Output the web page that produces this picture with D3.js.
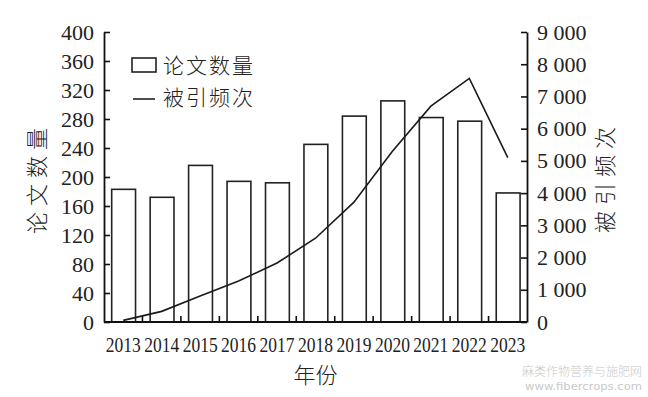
<!DOCTYPE html>
<html>
<head>
<meta charset="utf-8">
<script src="https://cdn.jsdelivr.net/npm/d3@7"></script>
<style>
  body { margin: 0; background: #fff; }
  .num { font-family: "Liberation Serif", "Times New Roman", serif; }
  .cjk { font-family: "Noto Sans CJK SC", sans-serif; font-weight: 300; }
</style>
</head>
<body>
<div id="chart"></div>
<script>
// data
var years = ["2013","2014","2015","2016","2017","2018","2019","2020","2021","2022","2023"];
var papers = [183, 172, 216, 194, 192, 245, 284, 305, 282, 277, 178];
var citations = [50, 330, 810, 1270, 1830, 2600, 3720, 5300, 6700, 7560, 5100];
var leftTicks = [0,40,80,120,160,200,240,280,320,360,400];
var rightTicks = [0,1000,2000,3000,4000,5000,6000,7000,8000,9000];

var W = 648, H = 397;
var margin = {top: 32, right: 121, bottom: 75, left: 104};
var w = W - margin.left - margin.right;
var h = H - margin.top - margin.bottom;

var svg = d3.select("#chart").append("svg")
    .attr("width", W)
    .attr("height", H);

svg.append("rect").attr("width", W).attr("height", H).attr("fill", "#fff");

var g = svg.append("g")
    .attr("transform", "translate(" + margin.left + "," + margin.top + ")");

var x = d3.scaleBand().domain(years).range([0, w]).padding(0);
var yL = d3.scaleLinear().domain([0, 400]).range([h, 0]);
var yR = d3.scaleLinear().domain([0, 9000]).range([h, 0]);

var bw = x.bandwidth();

// bars
g.selectAll(".bar")
    .data(years)
    .enter().append("rect")
    .attr("class", "bar")
    .attr("x", d => x(d) + bw * 0.2)
    .attr("width", bw * 0.62)
    .attr("y", (d, i) => yL(papers[i]))
    .attr("height", (d, i) => h - yL(papers[i]))
    .attr("fill", "#fff")
    .attr("stroke", "#222")
    .attr("stroke-width", 1.6);

// citation line
var line = d3.line()
    .x((d, i) => x(years[i]) + bw / 2)
    .y(d => yR(d));

g.append("path")
    .datum(citations)
    .attr("d", line)
    .attr("fill", "none")
    .attr("stroke", "#1a1a1a")
    .attr("stroke-width", 1.6);

// left axis
var axL = g.append("g")
    .call(d3.axisLeft(yL).tickValues(leftTicks).tickSize(-6).tickSizeOuter(0).tickPadding(10));
axL.select(".domain").attr("stroke", "#111").attr("stroke-width", 1.8);
axL.selectAll(".tick line").attr("stroke", "#111").attr("stroke-width", 1.6);
axL.selectAll(".tick text")
    .attr("class", "num")
    .attr("font-size", "22px")
    .attr("fill", "#222");

// right axis
var fmt = d => d3.format(",")(d).replace(",", " ");
var axR = g.append("g")
    .attr("transform", "translate(" + w + ",0)")
    .call(d3.axisRight(yR).tickValues(rightTicks).tickFormat(fmt).tickSize(-6).tickSizeOuter(0).tickPadding(10));
axR.select(".domain").attr("stroke", "#111").attr("stroke-width", 1.8);
axR.selectAll(".tick line").attr("stroke", "#111").attr("stroke-width", 1.6);
axR.selectAll(".tick text")
    .attr("class", "num")
    .attr("font-size", "22px")
    .attr("fill", "#222");

// bottom axis: ticks at band edges, pointing up
var axB = g.append("g").attr("transform", "translate(0," + h + ")");
axB.append("line")
    .attr("x1", 0).attr("x2", w)
    .attr("stroke", "#111").attr("stroke-width", 1.8);
axB.selectAll(".edge")
    .data(years.slice(1))
    .enter().append("line")
    .attr("x1", d => x(d)).attr("x2", d => x(d))
    .attr("y1", 0).attr("y2", -6)
    .attr("stroke", "#111").attr("stroke-width", 1.6);
axB.selectAll(".yr")
    .data(years)
    .enter().append("text")
    .attr("class", "num")
    .attr("x", d => x(d) + bw / 2)
    .attr("y", 30)
    .attr("text-anchor", "middle")
    .attr("font-size", "21px")
    .attr("textLength", 35)
    .attr("lengthAdjust", "spacingAndGlyphs")
    .attr("fill", "#222")
    .text(d => d);

// axis titles
g.append("text")
    .attr("class", "cjk")
    .attr("x", w / 2)
    .attr("y", h + 61)
    .attr("text-anchor", "middle")
    .attr("font-size", "22px")
    .attr("fill", "#222")
    .text("年份");

g.append("text")
    .attr("class", "cjk")
    .attr("transform", "rotate(-90)")
    .attr("x", -146)
    .attr("y", -margin.left + 45)
    .attr("text-anchor", "middle")
    .attr("font-size", "22px")
    .attr("letter-spacing", "6px")
    .attr("fill", "#222")
    .text("论文数量");

g.append("text")
    .attr("class", "cjk")
    .attr("transform", "rotate(-90)")
    .attr("x", -145)
    .attr("y", w + 86)
    .attr("text-anchor", "middle")
    .attr("font-size", "22px")
    .attr("letter-spacing", "6px")
    .attr("fill", "#222")
    .text("被引频次");

// legend
var lg = g.append("g").attr("transform", "translate(28,26)");
lg.append("rect")
    .attr("x", 0).attr("y", 0).attr("width", 24).attr("height", 14)
    .attr("fill", "#fff").attr("stroke", "#222").attr("stroke-width", 1.6);
lg.append("text")
    .attr("class", "cjk")
    .attr("x", 31).attr("y", 7)
    .attr("dy", "0.36em")
    .attr("font-size", "21px")
    .attr("letter-spacing", "2px")
    .attr("fill", "#222")
    .text("论文数量");
lg.append("line")
    .attr("x1", 1).attr("x2", 23).attr("y1", 41).attr("y2", 41)
    .attr("stroke", "#222").attr("stroke-width", 1.6);
lg.append("text")
    .attr("class", "cjk")
    .attr("x", 31).attr("y", 39)
    .attr("dy", "0.36em")
    .attr("font-size", "21px")
    .attr("letter-spacing", "2px")
    .attr("fill", "#222")
    .text("被引频次");

// watermark
svg.append("text")
    .attr("class", "cjk")
    .attr("x", 642).attr("y", 376)
    .attr("text-anchor", "end")
    .attr("font-size", "12px")
    .attr("fill", "#c9c9c9")
    .text("麻类作物营养与施肥网");
svg.append("text")
    .attr("font-family", "DejaVu Sans, sans-serif")
    .attr("x", 642).attr("y", 390)
    .attr("text-anchor", "end")
    .attr("font-size", "11px")
    .attr("textLength", 117)
    .attr("lengthAdjust", "spacingAndGlyphs")
    .attr("fill", "#c9c9c9")
    .text("www.fibercrops.com");
</script>
</body>
</html>
